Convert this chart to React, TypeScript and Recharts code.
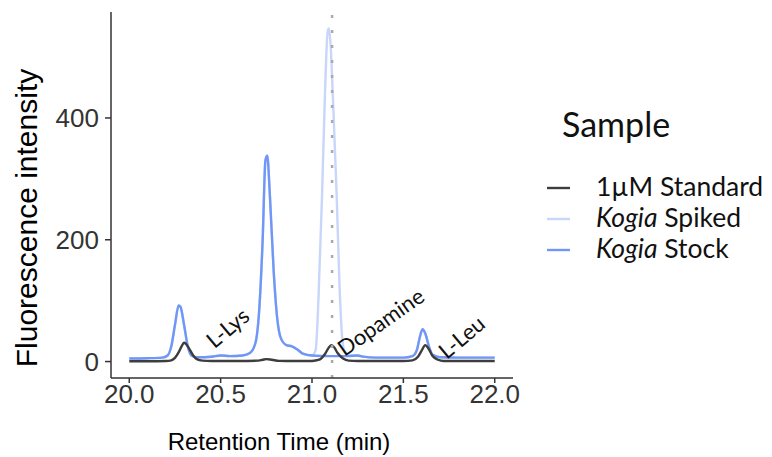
import React from "react";
import {
  LineChart,
  Line,
  XAxis,
  YAxis,
  ReferenceLine,
  ReferenceDot,
} from "recharts";

// retention time (min) / fluorescence
const standardTime = [
  20.0, 20.1, 20.2, 20.23, 20.25, 20.27, 20.29, 20.3, 20.31, 20.33, 20.35, 20.37, 20.4, 20.45,
  20.6, 20.7, 20.73, 20.75, 20.78, 20.82, 20.9, 21.0, 21.04, 21.07, 21.09, 21.105, 21.12, 21.14,
  21.17, 21.2, 21.25, 21.5, 21.55, 21.58, 21.6, 21.62, 21.64, 21.66, 21.69, 21.72, 21.8, 22.0,
];
const standardValue = [
  0.5, 0.5, 0.8, 2, 6, 15, 27, 31, 29, 20, 10, 4, 1.5, 0.8,
  0.8, 1.5, 3, 4, 3, 1.2, 0.8, 1, 3, 12, 22, 27, 24, 14,
  5, 1.5, 0.8, 0.8, 2, 8, 18, 27, 20, 9, 3, 1, 0.8, 0.8,
];

const stockTime = [
  20.0, 20.1, 20.18, 20.21, 20.23, 20.25, 20.27, 20.28, 20.3, 20.32, 20.34, 20.37, 20.45, 20.5,
  20.55, 20.62, 20.66, 20.69, 20.71, 20.73, 20.745, 20.755, 20.77, 20.79, 20.81, 20.83, 20.86,
  20.89, 20.92, 20.95, 21.0, 21.1, 21.2, 21.25, 21.28, 21.35, 21.5, 21.55, 21.575, 21.59, 21.605,
  21.62, 21.64, 21.66, 21.7, 21.8, 22.0,
];
const stockValue = [
  5, 5.5, 6.5, 10, 25, 60, 92, 90, 60, 25, 10, 7, 8, 10,
  9, 10, 14, 30, 80, 200, 330, 338, 270, 150, 70, 38, 27,
  25, 20, 13, 10, 9, 9, 10, 8, 6.5, 6.5, 9, 20, 40, 53,
  46, 25, 11, 7, 6.5, 6.5,
];

const spikedTime = [
  20.0, 20.1, 20.18, 20.21, 20.23, 20.25, 20.27, 20.28, 20.3, 20.32, 20.34, 20.37, 20.45, 20.5,
  20.55, 20.62, 20.66, 20.69, 20.71, 20.73, 20.745, 20.755, 20.77, 20.79, 20.81, 20.83, 20.86,
  20.89, 20.92, 20.95, 21.0, 21.02, 21.035, 21.055, 21.07, 21.085, 21.092, 21.1, 21.115, 21.135,
  21.15, 21.165, 21.18, 21.2, 21.25, 21.28, 21.35, 21.5, 21.55, 21.575, 21.59, 21.605, 21.62,
  21.64, 21.66, 21.7, 21.8, 22.0,
];
const spikedValue = [
  5, 5.5, 6.5, 10, 25, 60, 92, 90, 60, 25, 10, 7, 8, 10,
  9, 10, 14, 30, 80, 200, 330, 338, 270, 150, 70, 38, 27,
  25, 20, 13, 10, 19, 100, 273, 430, 540, 547, 528, 430, 273,
  130, 40, 15, 10, 10, 8, 6.5, 6.5, 9, 20, 40, 53, 46,
  25, 11, 7, 6.5, 6.5,
];

const xTicks = [20.0, 20.5, 21.0, 21.5, 22.0];
const yTicks = [0, 200, 400];
const dopamineTime = 21.11;

const peakLabels = [
  { text: "L-Lys", t: 20.537, v: 56, angle: -40 },
  { text: "Dopamine", t: 21.375, v: 66, angle: -35 },
  { text: "L-Leu", t: 21.817, v: 41, angle: -40 },
];

const toRows = (time: number[], value: number[]) =>
  time.map((t, i) => ({ t, v: value[i] }));

const series = [
  { name: "spiked", italic: "Kogia", rest: " Spiked", color: "#c8d6fb", data: toRows(spikedTime, spikedValue) },
  { name: "stock", italic: "Kogia", rest: " Stock", color: "#7097f6", data: toRows(stockTime, stockValue) },
  { name: "standard", italic: "", rest: "1µM Standard", color: "#3d3d3d", data: toRows(standardTime, standardValue) },
];
const legendOrder = ["standard", "spiked", "stock"];

const axisFont = "'Liberation Sans', Arial, sans-serif";
const labelFont = "Lato, 'Noto Sans', sans-serif";

const App: React.FC = () => {
  return (
    <div style={{ position: "absolute", left: 0, top: 0, width: 772, height: 457, background: "#fff" }}>
      <LineChart
        width={772}
        height={457}
        margin={{ top: 12, right: 259, left: 0, bottom: 0 }}
      >
        <XAxis
          type="number"
          dataKey="t"
          domain={[19.9, 22.1]}
          ticks={xTicks}
          tickFormatter={(v: number) => v.toFixed(1)}
          height={79}
          tickSize={5}
          tickMargin={2}
          stroke="#333"
          strokeWidth={1.5}
          tick={{ fill: "#333", fontSize: 26, fontFamily: axisFont }}
          allowDataOverflow
          label={{
            content: () => (
              <text
                x={279}
                y={450}
                textAnchor="middle"
                fontSize={24}
                fontFamily={axisFont}
                fill="#000"
              >
                Retention Time (min)
              </text>
            ),
          }}
        />
        <YAxis
          type="number"
          domain={[-27, 574]}
          ticks={yTicks}
          width={111}
          tickSize={6}
          tickMargin={6}
          stroke="#333"
          strokeWidth={1.5}
          tick={{ fill: "#333", fontSize: 26, fontFamily: axisFont }}
          allowDataOverflow
          label={{
            content: () => (
              <text
                x={37}
                y={218}
                transform="rotate(-90 37 218)"
                textAnchor="middle"
                fontSize={30}
                fontFamily={axisFont}
                fill="#000"
              >
                Fluorescence intensity
              </text>
            ),
          }}
        />

        {series.map((s) => (
          <Line
            key={s.name}
            data={s.data}
            dataKey="v"
            type="monotone"
            stroke={s.color}
            strokeWidth={2.4}
            dot={false}
            activeDot={false}
            isAnimationActive={false}
          />
        ))}

        <ReferenceLine
          x={dopamineTime}
          stroke="#aaa"
          strokeWidth={2.5}
          strokeDasharray="3 12"
        />

        {peakLabels.map((p) => (
          <ReferenceDot
            key={p.text}
            x={p.t}
            y={p.v}
            r={1}
            fill="none"
            stroke="none"
            label={{
              content: (props: any) => {
                const vb = props.viewBox || {};
                const cx = (vb.x ?? 0) + (vb.width ?? 0) / 2;
                const cy = (vb.y ?? 0) + (vb.height ?? 0) / 2;
                return (
                  <text
                    x={cx}
                    y={cy}
                    transform={`rotate(${p.angle} ${cx} ${cy})`}
                    textAnchor="middle"
                    dominantBaseline="central"
                    fontSize={22}
                    fontFamily={labelFont}
                    fill="#111"
                  >
                    {p.text}
                  </text>
                );
              },
            }}
          />
        ))}
      </LineChart>

      {/* legend */}
      <svg
        width={772}
        height={457}
        style={{ position: "absolute", left: 0, top: 0, pointerEvents: "none" }}
      >
        <text x={562} y={137} fontSize={34} fontFamily={labelFont} fill="#111">
          Sample
        </text>
        {legendOrder.map((key, i) => {
          const s = series.find((x) => x.name === key)!;
          const base = 196 + i * 31;
          return (
            <g key={key}>
              <line x1={547} x2={570} y1={base - 8} y2={base - 8} stroke={s.color} strokeWidth={2.4} />
              <text x={596} y={base} fontSize={26.5} fontFamily={labelFont} fill="#111">
                {s.italic && <tspan fontStyle="italic">{s.italic}</tspan>}
                {s.rest}
              </text>
            </g>
          );
        })}
      </svg>
    </div>
  );
};

export default App;
